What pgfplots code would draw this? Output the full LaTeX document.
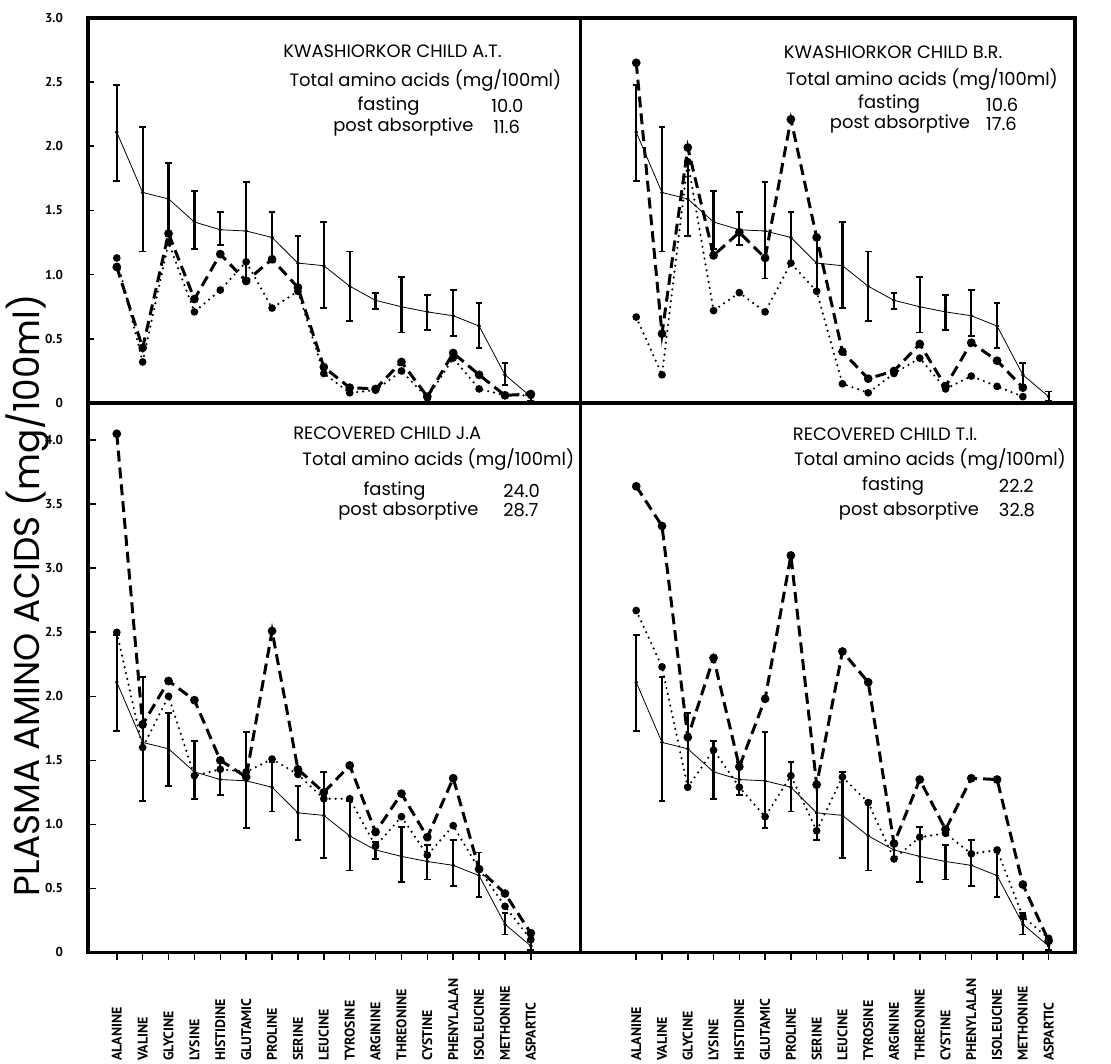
\documentclass[border=0pt]{standalone}
\usepackage{pgfplots}
\pgfplotsset{compat=1.18}
\usepackage{pgfplotstable}
\usepackage{fontspec}
\setmainfont{Poppins}
\newfontfamily\tickfont{PT Sans}
\begin{document}
\pgfplotstableread{
x y ep em
0 2.11 0.37 0.38
1 1.64 0.51 0.46
2 1.59 0.28 0.29
3 1.41 0.24 0.21
4 1.35 0.14 0.12
5 1.34 0.38 0.37
6 1.29 0.20 0.19
7 1.09 0.21 0.21
8 1.07 0.34 0.33
9 0.91 0.27 0.27
10 0.80 0.06 0.07
11 0.75 0.23 0.20
12 0.71 0.13 0.14
13 0.68 0.20 0.16
14 0.60 0.18 0.17
15 0.22 0.09 0.08
16 0.05 0.04 0.03
}\normaltab
\pgfplotstableread{
x d1 f1 d2 f2 d3 f3 d4 f4
0 1.06 1.13 2.65 0.67 4.05 2.50 3.64 2.67
1 0.43 0.32 0.54 0.22 1.78 1.60 3.33 2.23
2 1.32 1.25 1.99 1.88 2.12 2.00 1.68 1.29
3 0.81 0.71 1.15 0.72 1.97 1.38 2.30 1.58
4 1.16 0.88 1.33 0.86 1.50 1.43 1.45 1.29
5 0.95 1.10 1.13 0.71 1.37 1.41 1.98 1.06
6 1.12 0.74 2.21 1.09 2.51 1.51 3.10 1.38
7 0.90 0.87 1.29 0.87 1.43 1.39 1.31 0.95
8 0.28 0.23 0.40 0.15 1.25 1.20 2.35 1.37
9 0.12 0.08 0.19 0.08 1.46 1.20 2.11 1.17
10 0.11 0.10 0.25 0.23 0.94 0.83 0.85 0.73
11 0.32 0.25 0.46 0.35 1.24 1.06 1.35 0.90
12 0.05 0.04 0.13 0.11 0.90 0.76 0.96 0.93
13 0.39 0.35 0.47 0.21 1.36 0.99 1.36 0.77
14 0.22 0.11 0.33 0.13 0.65 0.65 1.35 0.80
15 0.06 0.06 0.12 0.05 0.46 0.36 0.53 0.28
16 0.07 0.06 nan nan 0.15 0.10 0.09 0.11
}\amtab
\pgfplotsset{
  panel/.style={scale only axis, anchor=south west,
    axis line style={line width=1.8pt},
    tick style={line width=0.8pt, black},
    clip=false},
  leftp/.style={ytick pos=left, ytick align=inside, major tick length=3pt,
    yticklabel style={font=\tickfont\bfseries\fontsize{6.5}{7}\selectfont, xshift=-9pt}},
  rightp/.style={ytick=\empty, yticklabels={}},
  topp/.style={ymin=0, ymax=3, height=193.5pt, xtick=\empty,
    ytick={0,0.5,...,3}, yticklabels={0,0.5,1.0,1.5,2.0,2.5,3.0}},
  botp/.style={ymin=0, ymax=4.29, height=276pt,
    ytick={0,0.5,...,4}, yticklabels={0,0.5,1.0,1.5,2.0,2.5,3.0,3.5,4.0},
    xtick={0,...,16}, xtick pos=left, xtick align=outside, major tick length=4pt,
    xticklabels={ALANINE,VALINE,GLYCINE,LYSINE,HISTIDINE,GLUTAMIC,PROLINE,SERINE,LEUCINE,TYROSINE,ARGININE,THREONINE,CYSTINE,PHENYLALAN,ISOLEUCINE,METHONINE,ASPARTIC},
    xticklabel style={rotate=90, anchor=west, font=\tickfont\bfseries\fontsize{7}{8}\selectfont, xshift=-3pt},
    xticklabel shift=51pt},
  normal/.style={black, line width=0.4pt, mark=*, mark size=0.7pt,
    error bars/.cd, y dir=both, y explicit,
    error bar style={line width=1.1pt, black},
    error mark options={rotate=90, mark size=1.7pt, line width=0.9pt, black}},
  post/.style={black, line width=1.5pt, dash pattern=on 5.5pt off 3pt,
    mark=*, mark size=1.4pt, mark options={solid}},
  fast/.style={black, line width=1.2pt, line cap=round, dash pattern=on 0pt off 3pt,
    mark=*, mark size=1.3pt, mark options={solid}},
}
\begin{tikzpicture}
\useasboundingbox (0,0) rectangle (555.5pt,534.5pt);
% top left
\begin{axis}[panel, leftp, topp, at={(41.5pt,332pt)}, width=247.5pt, xmin=-1.115, xmax=17.92]
\addplot[normal] table[x=x, y=y, y error plus=ep, y error minus=em] {\normaltab};
\addplot[post] table[x=x, y=d1] {\amtab};
\addplot[fast] table[x=x, y=f1] {\amtab};
\end{axis}
% top right
\begin{axis}[panel, topp, rightp, at={(289pt,332pt)}, width=248.5pt, xmin=-2.16, xmax=17.03]
\addplot[normal] table[x=x, y=y, y error plus=ep, y error minus=em] {\normaltab};
\addplot[post] table[x=x, y=d2] {\amtab};
\addplot[fast] table[x=x, y=f2] {\amtab};
\end{axis}
% bottom left
\begin{axis}[panel, leftp, botp, at={(41.5pt,56pt)}, width=247.5pt, xmin=-1.115, xmax=17.92]
\addplot[normal] table[x=x, y=y, y error plus=ep, y error minus=em] {\normaltab};
\addplot[post] table[x=x, y=d3] {\amtab};
\addplot[fast] table[x=x, y=f3] {\amtab};
\end{axis}
% bottom right
\begin{axis}[panel, botp, rightp, at={(289pt,56pt)}, width=248.5pt, xmin=-2.16, xmax=17.03]
\addplot[normal] table[x=x, y=y, y error plus=ep, y error minus=em] {\normaltab};
\addplot[post] table[x=x, y=d4] {\amtab};
\addplot[fast] table[x=x, y=f4] {\amtab};
\end{axis}
\begin{scope}[shift={(0,534.5pt)}, x=0.5pt, y=-0.5pt, every node/.style={font=\fontsize{9}{11}\selectfont, inner sep=0pt}]
\node[anchor=west] at (279,52) {KWASHIORKOR CHILD A.T.};
\node[anchor=east] at (559,81) {Total amino acids (mg/100ml)};
\node at (385,107) {fasting}; \node[anchor=west] at (488,107) {10.0};
\node at (400,128) {post absorptive}; \node[anchor=west] at (490,128) {11.6};
\node[anchor=west] at (782,53) {KWASHIORKOR CHILD B.R.};
\node[anchor=east] at (1058,80) {Total amino acids (mg/100ml)};
\node at (888,105) {fasting}; \node[anchor=west] at (985,105) {10.6};
\node at (899,125) {post absorptive}; \node[anchor=west] at (985,125) {17.6};
\node[anchor=west] at (289,435) {RECOVERED CHILD J.A};
\node[anchor=east] at (572,462) {Total amino acids (mg/100ml)};
\node at (391,493) {fasting}; \node[anchor=west] at (500,493) {24.0};
\node at (405,513) {post absorptive}; \node[anchor=west] at (500,513) {28.7};
\node[anchor=west] at (791,436) {RECOVERED CHILD T.I.};
\node[anchor=east] at (1066,462) {Total amino acids (mg/100ml)};
\node at (892,488) {fasting}; \node[anchor=west] at (998,488) {22.2};
\node at (908,513) {post absorptive}; \node[anchor=west] at (998,513) {32.8};
\node[rotate=90, font=\fontsize{18}{20}\selectfont] at (22,598) {PLASMA AMINO ACIDS (mg/100ml)};
\end{scope}
\end{tikzpicture}
\end{document}
